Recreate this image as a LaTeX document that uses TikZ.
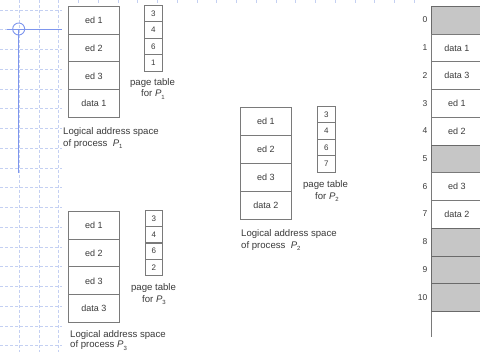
\documentclass[tikz,border=0pt]{standalone}
\usepackage{fontspec}
\setmainfont{Liberation Sans}
\definecolor{ln}{HTML}{7A7A7A}
\definecolor{lnd}{HTML}{6A6A6A}
\definecolor{tx}{HTML}{3A3A3A}
\definecolor{shade}{HTML}{C6C6C6}
\definecolor{gridc}{HTML}{C4D0F2}
\definecolor{crossc}{HTML}{7E96EE}
\newcommand{\Pn}[1]{{\itshape P}\raisebox{-2.2pt}{\fontsize{6}{6}\selectfont #1}}
\tikzset{
  cell/.style={draw=ln, line width=0.9pt, minimum width=51pt, minimum height=27.75pt, inner sep=0pt, anchor=north west, font=\fontsize{9}{10}\selectfont, text=tx},
  freecell/.style={cell, fill=shade, draw=lnd, line width=1.1pt},
  ptcell/.style={draw=ln, line width=0.9pt, minimum width=18pt, minimum height=16.5pt, inner sep=0pt, anchor=north west, font=\fontsize{8}{9}\selectfont, text=tx},
  captext/.style={inner sep=0pt, anchor=base west, font=\fontsize{9.6}{11}\selectfont, text=tx},
  ptlab/.style={inner sep=0pt, anchor=base, font=\fontsize{9.6}{11}\selectfont, text=tx},
  idx/.style={inner sep=0pt, anchor=base east, font=\fontsize{8.5}{9}\selectfont, text=tx},
  gridline/.style={draw=gridc, dash pattern=on 3pt off 2pt, line width=0.6pt},
  cross/.style={draw=crossc, line width=0.9pt},
  memline/.style={draw=ln, line width=0.9pt}
}
\begin{document}
\begin{tikzpicture}[x=1pt,y=-1pt]
\useasboundingbox (0,0) rectangle (480,352);
\clip (0,0) rectangle (480,352);
\fill[white] (0,0) rectangle (480,352);
% background grid
\foreach \k in {0,...,17} \draw[gridline] (0,{10+19.75*\k}) -- (62,{10+19.75*\k});
\foreach \k in {0,1,2} \draw[gridline] ({19.25+19.75*\k},0) -- ({19.25+19.75*\k},352);
\foreach \k in {3,...,20} \draw[gridline] ({19.25+19.75*\k},0) -- ({19.25+19.75*\k},3);
% crosshair
\coordinate (cc) at (18.7,29);
\coordinate (ch0) at (7,29);
\coordinate (ch1) at (62,29);
\coordinate (cv1) at (18.7,173);
\draw[cross] (cc) circle (6);
\draw[cross] (ch0) -- (ch1);
\draw[cross] (cc) -- (cv1);
% process P1
\foreach \t [count=\i from 0] in {ed 1, ed 2, ed 3, data 1}
  \node[cell] (pa\i) at (68,{6+27.75*\i}) {\t};
\foreach \t [count=\i from 0] in {3,4,6,1}
  \node[ptcell] (ta\i) at (144,{5+16.5*\i}) {\t};
\node[ptlab] (tal1) at (152.5,85.5) {page table};
\node[ptlab] (tal2) at (153,97) {for \Pn{1}};
\node[captext] (cal1) at (63,134.5) {Logical address space};
\node[captext] (cal2) at (63,146.5) {of process \ \Pn{1}};
% process P3
\foreach \t [count=\i from 0] in {ed 1, ed 2, ed 3, data 3}
  \node[cell] (pc\i) at (68,{211+27.75*\i}) {\t};
\foreach \t [count=\i from 0] in {3,4,6,2}
  \node[ptcell, minimum width=17pt] (tc\i) at (145,{210+16.25*\i}) {\t};
\node[ptlab] (tcl1) at (153.5,290.5) {page table};
\node[ptlab] (tcl2) at (154,302.5) {for \Pn{3}};
\node[captext] (ccl1) at (70,337.5) {Logical address space};
\node[captext] (ccl2) at (70,348) {of process \Pn{3}};
% process P2
\foreach \t [count=\i from 0] in {ed 1, ed 2, ed 3, data 2}
  \node[cell, minimum height=28pt] (pb\i) at (240,{107+28*\i}) {\t};
\foreach \t [count=\i from 0] in {3,4,6,7}
  \node[ptcell] (tb\i) at (317,{106+16.5*\i}) {\t};
\node[ptlab] (tbl1) at (325.5,187.5) {page table};
\node[ptlab] (tbl2) at (327,199.5) {for \Pn{2}};
\node[captext] (cbl1) at (241,236.5) {Logical address space};
\node[captext] (cbl2) at (241,248.5) {of process \ \Pn{2}};
% physical memory
\node[freecell] (m0) at (431,6) {};
\node[cell] (m1) at (431,{6+27.73*1}) {data 1};
\node[cell] (m2) at (431,{6+27.73*2}) {data 3};
\node[cell] (m3) at (431,{6+27.73*3}) {ed 1};
\node[cell] (m4) at (431,{6+27.73*4}) {ed 2};
\node[freecell] (m5) at (431,{6+27.73*5}) {};
\node[cell] (m6) at (431,{6+27.73*6}) {ed 3};
\node[cell] (m7) at (431,{6+27.73*7}) {data 2};
\node[freecell] (m8) at (431,{6+27.73*8}) {};
\node[freecell] (m9) at (431,{6+27.73*9}) {};
\node[freecell] (m10) at (431,{6+27.73*10}) {};
\foreach \i in {0,...,10}
  \node[idx] (n\i) at (427.5,{6+27.73*\i+13.86+3}) {\i};
\coordinate (mend) at (431,337);
\draw[memline] (m10.south west) -- (mend);
\end{tikzpicture}
\end{document}
